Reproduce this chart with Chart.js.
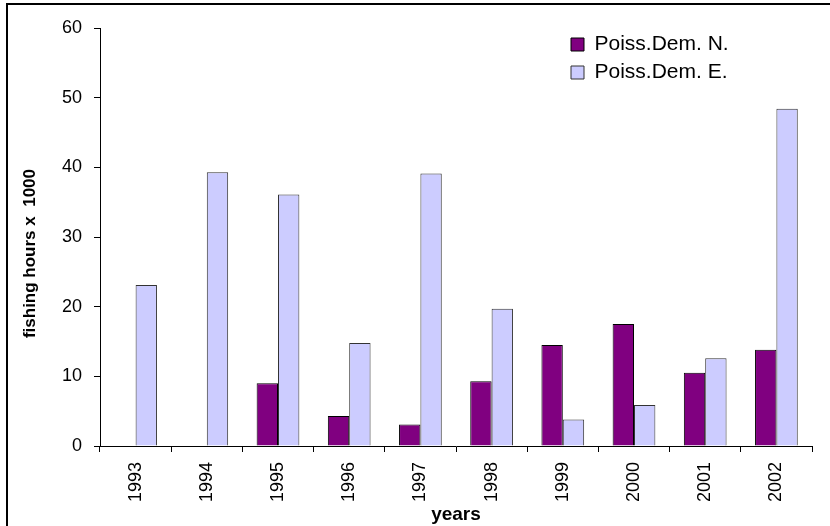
<!DOCTYPE html>
<html>
<head>
<meta charset="utf-8">
<script src="https://cdn.jsdelivr.net/npm/chart.js@4/dist/chart.umd.min.js"></script>
<style>
  html, body { margin: 0; padding: 0; background: #fff; width: 830px; height: 526px; overflow: hidden; }
  #frame { position: absolute; left: 6px; top: 3px; width: 900px; height: 600px;
           border-left: 2px solid #000; border-top: 2px solid #000; }
  #c { position: absolute; left: 0; top: 0; }
</style>
</head>
<body>
<div id="frame"></div>
<canvas id="c" width="830" height="526"></canvas>
<script>
// ---- data ----
const years = ['1993', '1994', '1995', '1996', '1997', '1998', '1999', '2000', '2001', '2002'];
const poissDemN = [null, null, 9.0, 4.3, 3.1, 9.3, 14.5, 17.5, 10.5, 13.8];
const poissDemE = [23.1, 39.3, 36.1, 14.8, 39.1, 19.7, 3.8, 5.9, 12.6, 48.4];
const seriesNames = ['Poiss.Dem. N.', 'Poiss.Dem. E.'];
const yMin = 0, yMax = 60, yStep = 10;
const xTitle = 'years';
const yTitle = 'fishing hours x  1000';

Chart.defaults.font.family = "'Liberation Sans', Arial, sans-serif";
Chart.defaults.color = '#000';

const legendPlace = {
  id: 'legendPlace',
  afterLayout(chart) {
    const lg = chart.legend;
    lg.left = 564; lg.top = 27;
    lg.right = lg.left + 230; lg.bottom = lg.top + 90;
    lg.width = 230; lg.height = 90;
  }
};

new Chart(document.getElementById('c'), {
  type: 'bar',
  data: {
    labels: years,
    datasets: [
      { label: seriesNames[0], data: poissDemN, backgroundColor: '#800080', borderColor: '#000000', borderWidth: 1 },
      { label: seriesNames[1], data: poissDemE, backgroundColor: '#CCCCFF', borderColor: '#333333', borderWidth: 1 }
    ]
  },
  options: {
    responsive: false,
    animation: false,
    devicePixelRatio: 1,
    datasets: { bar: { categoryPercentage: 0.6, barPercentage: 1.0 } },
    layout: { padding: { left: 0, top: 28, right: 18, bottom: 0 } },
    plugins: {
      legend: {
        position: 'chartArea',
        align: 'start',
        labels: { boxWidth: 13, boxHeight: 13, padding: 7, font: { size: 21 }, color: '#000' }
      },
      tooltip: { enabled: false }
    },
    scales: {
      x: {
        grid: { drawOnChartArea: false, drawTicks: true, tickLength: 6, color: '#000', offset: true },
        border: { color: '#000', width: 1 },
        ticks: { minRotation: 90, maxRotation: 90, padding: 10, font: { size: 18 }, color: '#000' },
        title: { display: true, text: xTitle, font: { size: 19, weight: 'bold' }, padding: { top: 0, bottom: 0 }, color: '#000' },
        afterFit(s) { s.height = 80; }
      },
      y: {
        min: yMin, max: yMax,
        grid: { drawOnChartArea: false, drawTicks: true, tickLength: 6, color: '#000' },
        border: { color: '#000', width: 1 },
        ticks: { stepSize: yStep, padding: 12, font: { size: 18 }, color: '#000' },
        title: { display: true, text: yTitle + '       ', font: { size: 17, weight: 'bold' }, padding: { top: 20, bottom: 0 }, color: '#000' },
        afterFit(s) { s.width = 100; }
      }
    }
  },
  plugins: [legendPlace]
});
</script>
</body>
</html>
